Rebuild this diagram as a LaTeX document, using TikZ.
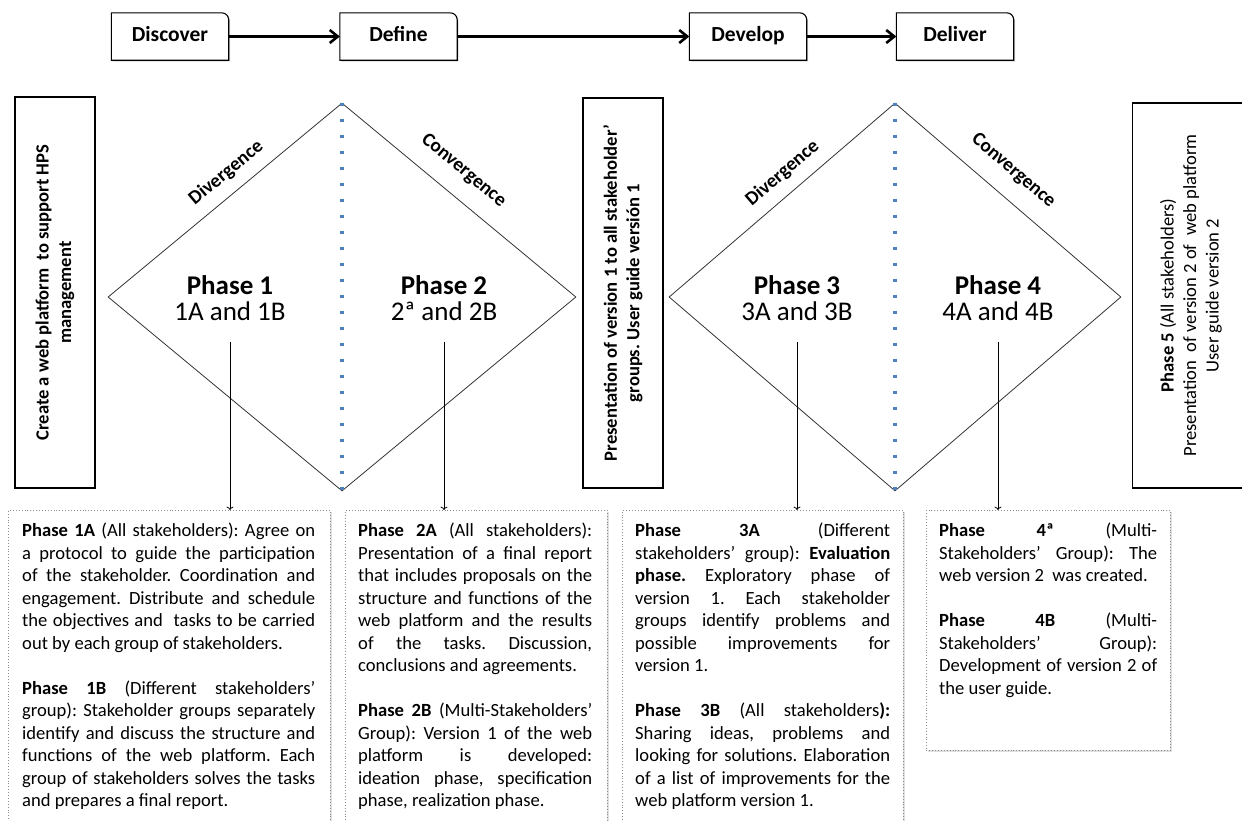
\documentclass[tikz,border=0pt]{standalone}
\usepackage{fontspec}
\setmainfont{Carlito}
\usetikzlibrary{positioning,shapes.geometric,shadows,backgrounds,arrows.meta}
\definecolor{dotblue}{RGB}{79,129,189}
\definecolor{framegray}{RGB}{140,140,140}
\setlength{\parindent}{0pt}
\hbadness=10000
\frenchspacing
\newcommand{\bodyfont}{\fontsize{18.6}{22.5}\selectfont}

\begin{document}
\begin{tikzpicture}[x=1pt, y=-1pt,
  stagebox/.style={minimum width=117pt, minimum height=47pt, inner sep=0pt, text height=14pt, text depth=4pt, font=\fontsize{21.5}{24}\selectfont\bfseries},
  stageframe/.style={draw, line width=1.1pt, fill=white, drop shadow={shadow xshift=1.5pt, shadow yshift=-1.5pt, opacity=0.3}},
  stagearrow/.style={-{Straight Barb[length=8pt,width=13pt]}, line width=2.6pt},
  sidebox/.style={draw, line width=1.1pt, rotate=90, align=center, inner sep=0pt},
  phasediamond/.style={diamond, draw=black!80, line width=0.8pt, inner sep=0pt},
  midline/.style={dotblue, line width=3.4pt, dash pattern=on 3.4pt off 12.6pt},
  phaselabel/.style={align=center, font=\fontsize{27}{26}\selectfont},
  slopelabel/.style={sloped, above, font=\fontsize{19.5}{22}\selectfont\bfseries},
  panel/.style={draw=framegray, dotted, line width=0.9pt, fill=white, anchor=north west, inner sep=0pt, drop shadow={shadow xshift=1.5pt, shadow yshift=-1.5pt, opacity=0.25}},
  paneltext/.style={anchor=north west, align=justify, inner sep=0pt, font=\bodyfont},
  droparrow/.style={->, line width=0.8pt, shorten <=18pt},
]
\useasboundingbox (0,0) rectangle (1242,820);

% Double diamond stages
\node[stagebox] (discover) at (170,36.5) {Discover};
\node[stagebox] (define) at (398.5,36.5) {Define};
\node[stagebox] (develop) at (748,36.5) {Develop};
\node[stagebox] (deliver) at (955,36.5) {Deliver};
\begin{scope}[on background layer]
\foreach \s in {discover,define,develop,deliver}
  \draw[stageframe] (\s.north) [rounded corners=7pt] -- (\s.north east) -- (\s.east) [sharp corners] -- (\s.south east) -- (\s.south west) -- (\s.north west) -- cycle;
\end{scope}
\draw[stagearrow] (discover) -- (define);
\draw[stagearrow] (define) -- (develop);
\draw[stagearrow] (develop) -- (deliver);

% Diamonds
\node[phasediamond, minimum width=468pt, minimum height=388pt] (d1) at (342,297) {};
\node[phasediamond, minimum width=452pt, minimum height=388pt] (d2) at (895,297) {};
\draw[midline] (d1.north) -- (d1.south);
\draw[midline] (d2.north) -- (d2.south);
\path (d1.west) -- node[slopelabel, pos=0.56, inner sep=11pt] {Divergence} (d1.north);
\path (d1.north) -- node[slopelabel, pos=0.45, inner sep=17pt] {Convergence} (d1.east);
\path (d2.west) -- node[slopelabel, pos=0.56, inner sep=11pt] {Divergence} (d2.north);
\path (d2.north) -- node[slopelabel, pos=0.45, inner sep=17pt] {Convergence} (d2.east);

% Phases
\node[phaselabel] (ph1) at (230,298) {\textbf{Phase 1}\\1A and 1B};
\node[phaselabel] (ph2) at (444,298) {\textbf{Phase 2}\\2ª and 2B};
\node[phaselabel] (ph3) at (797,298) {\textbf{Phase 3}\\3A and 3B};
\node[phaselabel] (ph4) at (998,298) {\textbf{Phase 4}\\4A and 4B};

% Milestones
\node[sidebox, minimum width=391pt, minimum height=80pt, font=\bodyfont\bfseries] (goal) at (55,292.5) {Create a web platform\ \ to support HPS\\management};
\node[sidebox, minimum width=390pt, minimum height=80pt, font=\bodyfont\bfseries] (pres1) at (623,293) {Presentation of version 1 to all stakeholder’\\groups. User guide versión 1};
\node[sidebox, minimum width=385pt, minimum height=117pt, font=\bodyfont] (pres2) at (1191,295.5) {\textbf{Phase 5} (All stakeholders)\\Presentation\ \ of version 2 of\ \ web platform\\User guide version 2};

% Detail panels
\node[panel, minimum width=322pt, minimum height=330pt] (p1) at (8,510) {};
\node[panel, minimum width=262pt, minimum height=330pt] (p2) at (345,510) {};
\node[panel, minimum width=281pt, minimum height=330pt] (p3) at (622,510) {};
\node[panel, minimum width=244pt, minimum height=240pt] (p4) at (926,510) {};

\node[paneltext, text width=293pt] (t1) at (22,523) {\textbf{Phase 1A} (All stakeholders): Agree on\linebreak a protocol to guide the participation\linebreak of the stakeholder. Coordination and\linebreak engagement. Distribute and schedule\linebreak the objectives and\ \ tasks to be carried\linebreak out by each group of stakeholders.\par\vspace{22.5pt}
\textbf{Phase 1B} (Different stakeholders’\linebreak group): Stakeholder groups separately\linebreak identify and discuss the structure and\linebreak functions of the web platform. Each\linebreak group of stakeholders solves the tasks\linebreak and prepares a final report.};
\node[paneltext, text width=234pt] (t2) at (358,523) {\textbf{Phase 2A} (All stakeholders):\linebreak Presentation of a final report\linebreak that includes proposals on the\linebreak structure and functions of the\linebreak web platform and the results\linebreak of the tasks. Discussion,\linebreak conclusions and agreements.\par\vspace{22.5pt}
\textbf{Phase 2B} (Multi-Stakeholders’\linebreak Group): Version 1 of the web\linebreak platform is developed:\linebreak ideation phase, specification\linebreak phase, realization phase.};
\node[paneltext, text width=255pt] (t3) at (635,523) {\textbf{Phase 3A} (Different\linebreak stakeholders’ group): \textbf{Evaluation}\linebreak \textbf{phase.} Exploratory phase of\linebreak version 1. Each stakeholder\linebreak groups identify problems and\linebreak possible improvements for\linebreak version 1.\par\vspace{22.5pt}
\textbf{Phase 3B} (All stakeholders\textbf{):}\linebreak Sharing ideas, problems and\linebreak looking for solutions. Elaboration\linebreak of a list of improvements for the\linebreak web platform version 1.};
\node[paneltext, text width=218pt] (t4) at (939,523) {\textbf{Phase 4ª} (Multi-\linebreak Stakeholders’ Group): The\linebreak web version 2\ \ was created.\par\vspace{22.5pt}
\textbf{Phase 4B} (Multi-\linebreak Stakeholders’ Group):\linebreak Development of version 2 of\linebreak the user guide.};

% Phase details
\draw[droparrow] (ph1.south) -- (ph1.south |- p1.north);
\draw[droparrow] (ph2.south) -- (ph2.south |- p2.north);
\draw[droparrow] (ph3.south) -- (ph3.south |- p3.north);
\draw[droparrow] (ph4.south) -- (ph4.south |- p4.north);
\end{tikzpicture}
\end{document}
